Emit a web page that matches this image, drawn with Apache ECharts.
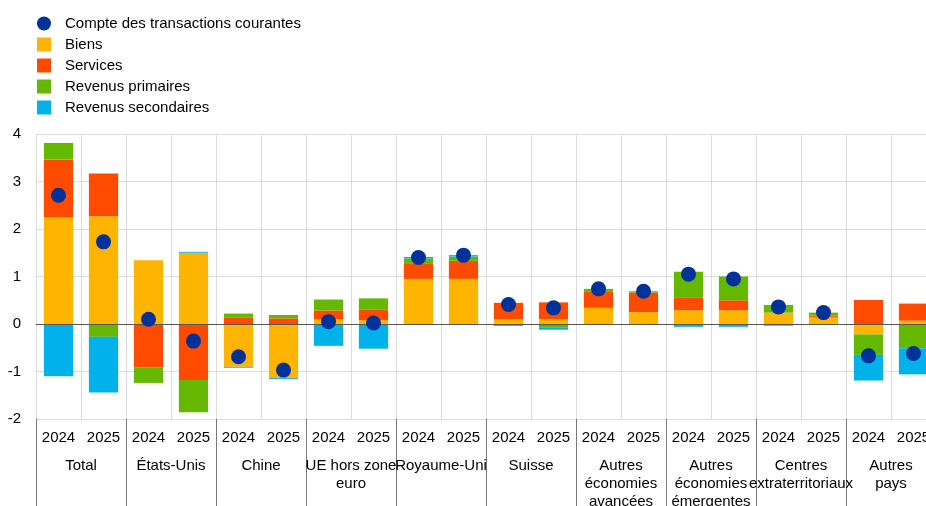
<!DOCTYPE html>
<html>
<head>
<meta charset="utf-8">
<script src="https://cdn.jsdelivr.net/npm/echarts@6/dist/echarts.min.js"></script>
<style>
  html, body { margin: 0; padding: 0; background: #fff; }
  #chart { width: 926px; height: 506px; }
</style>
</head>
<body>
<div id="chart"></div>
<script>
// Regions (two years each), in display order
const groups = ['Total', 'États-Unis', 'Chine', 'UE hors zone\neuro', 'Royaume-Uni', 'Suisse',
  'Autres\néconomies\navancées', 'Autres\néconomies\némergentes', 'Centres\nextraterritoriaux', 'Autres\npays'];
const years = ['2024', '2025'];

// Contributions, one value per region-year (percent)
const biens       = [2.25, 2.27, 1.34, 1.50, -0.90, -1.14, 0.105, 0.08, 0.95, 0.95, 0.105, 0.105, 0.34, 0.25, 0.29, 0.29, 0.24, 0.15, -0.22, 0.07];
const services    = [1.21, 0.90, -0.91, -1.18, 0.13, 0.12, 0.18, 0.23, 0.33, 0.38, 0.34, 0.35, 0.35, 0.41, 0.26, 0.21, -0.035, 0.03, 0.505, 0.36];
const primaires   = [0.35, -0.27, -0.33, -0.68, 0.09, 0.07, 0.23, 0.23, 0.10, 0.09, 0, -0.08, 0.05, 0.03, 0.55, 0.50, 0.16, 0.06, -0.43, -0.51];
const secondaires = [-1.10, -1.17, 0, 0.02, -0.02, -0.02, -0.46, -0.52, 0.03, 0.03, -0.04, -0.04, 0, 0, -0.06, -0.06, 0, 0, -0.54, -0.55];
const compte      = [2.71, 1.73, 0.10, -0.36, -0.69, -0.97, 0.05, 0.02, 1.40, 1.45, 0.41, 0.34, 0.74, 0.69, 1.05, 0.95, 0.36, 0.24, -0.67, -0.62];

const yTicks = { min: -2, max: 4, interval: 1 };

const categories = [];
groups.forEach(() => years.forEach(y => categories.push(y)));

const FONT = 'Liberation Sans, Arial, sans-serif';
const chart = echarts.init(document.getElementById('chart'), null, { renderer: 'canvas' });

function barSeries(name, data, color) {
  return {
    name, type: 'bar', stack: 'total', data,
    barWidth: '65%', itemStyle: { color },
    emphasis: { disabled: true }
  };
}

chart.setOption({
  animation: false,
  textStyle: { fontFamily: FONT },
  legend: {
    orient: 'vertical', left: 32, top: 11,
    itemWidth: 14, itemHeight: 14, itemGap: 6,
    textStyle: { fontSize: 15, color: '#000', fontFamily: FONT, padding: [0, 0, 0, 9] },
    data: [
      { name: 'Compte des transactions courantes', icon: 'circle' },
      { name: 'Biens', icon: 'rect' },
      { name: 'Services', icon: 'rect' },
      { name: 'Revenus primaires', icon: 'rect' },
      { name: 'Revenus secondaires', icon: 'rect' }
    ]
  },
  grid: { left: 36, top: 134, width: 900, height: 285, containLabel: false, outerBoundsMode: 'none' },
  xAxis: [
    {
      type: 'category', data: categories, position: 'bottom',
      axisLine: { show: false }, axisTick: { show: false },
      axisLabel: { interval: 0, margin: 11, fontSize: 15, color: '#000', fontFamily: FONT },
      splitLine: { show: true, interval: 0, lineStyle: { color: '#dcdcdc', width: 1 } }
    },
    {
      type: 'category', data: groups, position: 'bottom',
      axisLine: { show: false },
      axisTick: { show: true, interval: 0, length: 88, lineStyle: { color: '#777', width: 1 } },
      axisLabel: { interval: 0, margin: 38, fontSize: 15, lineHeight: 18, color: '#000', fontFamily: FONT, verticalAlign: 'top' },
      splitLine: { show: false }
    }
  ],
  yAxis: {
    type: 'value', min: yTicks.min, max: yTicks.max, interval: yTicks.interval,
    axisLine: { show: false }, axisTick: { show: false },
    axisLabel: { margin: 15, fontSize: 15, color: '#000', fontFamily: FONT },
    splitLine: { lineStyle: { color: '#dcdcdc', width: 1 } }
  },
  series: [
    Object.assign(barSeries('Biens', biens, '#FFB400'), {
      markLine: {
        silent: true, symbol: 'none', label: { show: false },
        lineStyle: { color: '#555', type: 'solid', width: 1 },
        data: [{ yAxis: 0 }]
      }
    }),
    barSeries('Services', services, '#FF4B00'),
    barSeries('Revenus primaires', primaires, '#65B800'),
    barSeries('Revenus secondaires', secondaires, '#00B1EA'),
    {
      name: 'Compte des transactions courantes', type: 'scatter', data: compte,
      symbol: 'circle', symbolSize: 15, z: 5,
      itemStyle: { color: '#003299', opacity: 1 }, emphasis: { disabled: true }
    }
  ]
});
</script>
</body>
</html>
